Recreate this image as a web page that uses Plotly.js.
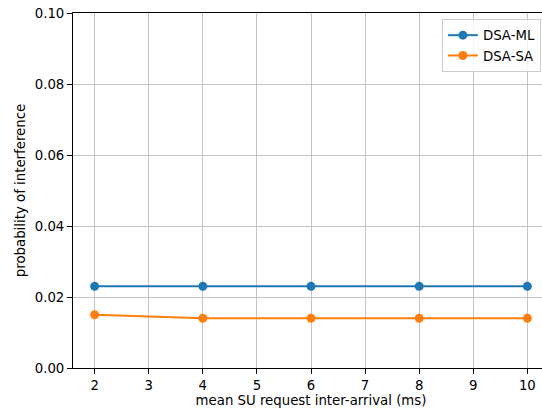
<!DOCTYPE html>
<html>
<head>
<meta charset="utf-8">
<script src="https://cdn.plot.ly/plotly-3.0.1.min.js"></script>
<style>
  html, body { margin: 0; padding: 0; overflow: hidden; background: #fff; }
  #chart { width: 552px; height: 408px; }
</style>
</head>
<body>
<div id="chart"></div>
<script>
// Mean SU request inter-arrival time (ms)
const interArrival = [2, 4, 6, 8, 10];
// Probability of interference for each scheme
const dsaML = [0.023, 0.023, 0.023, 0.023, 0.023];
const dsaSA = [0.015, 0.014, 0.014, 0.014, 0.014];
const seriesNames = ['DSA-ML', 'DSA-SA'];

const font = { family: 'DejaVu Sans, sans-serif', size: 13.3, color: '#000' };

const traces = [
  {
    x: interArrival, y: dsaML, name: seriesNames[0],
    mode: 'lines+markers',
    line: { color: '#1f77b4', width: 2 },
    marker: { color: '#1f77b4', size: 9 }
  },
  {
    x: interArrival, y: dsaSA, name: seriesNames[1],
    mode: 'lines+markers',
    line: { color: '#ff7f0e', width: 2 },
    marker: { color: '#ff7f0e', size: 9 }
  }
];

const axisCommon = {
  showgrid: true, gridcolor: '#c4c4c4', gridwidth: 1,
  zeroline: false,
  showline: true, linecolor: '#000', linewidth: 1, mirror: true,
  ticks: 'outside', ticklen: 5, tickwidth: 1, tickcolor: '#000',
  tickfont: font
};

const layout = {
  width: 552, height: 408,
  margin: { l: 73, r: 3, t: 13, b: 40 },
  paper_bgcolor: '#fff', plot_bgcolor: '#fff',
  font: font,
  showlegend: true,
  legend: {
    x: 0.983, y: 0.983, xanchor: 'right', yanchor: 'top',
    bgcolor: 'rgba(255,255,255,0.8)', bordercolor: '#cccccc', borderwidth: 1,
    font: font, tracegroupgap: 0
  },
  xaxis: Object.assign({}, axisCommon, {
    range: [1.6, 10.4], dtick: 1, tick0: 0,
    title: { text: 'mean SU request inter-arrival (ms)', font: font, standoff: 6 }
  }),
  yaxis: Object.assign({}, axisCommon, {
    range: [0, 0.1], dtick: 0.02, tickformat: '.2f',
    title: { text: 'probability of interference', font: font, standoff: 6 }
  })
};

Plotly.newPlot('chart', traces, layout, { displayModeBar: false, staticPlot: true });
</script>
</body>
</html>
